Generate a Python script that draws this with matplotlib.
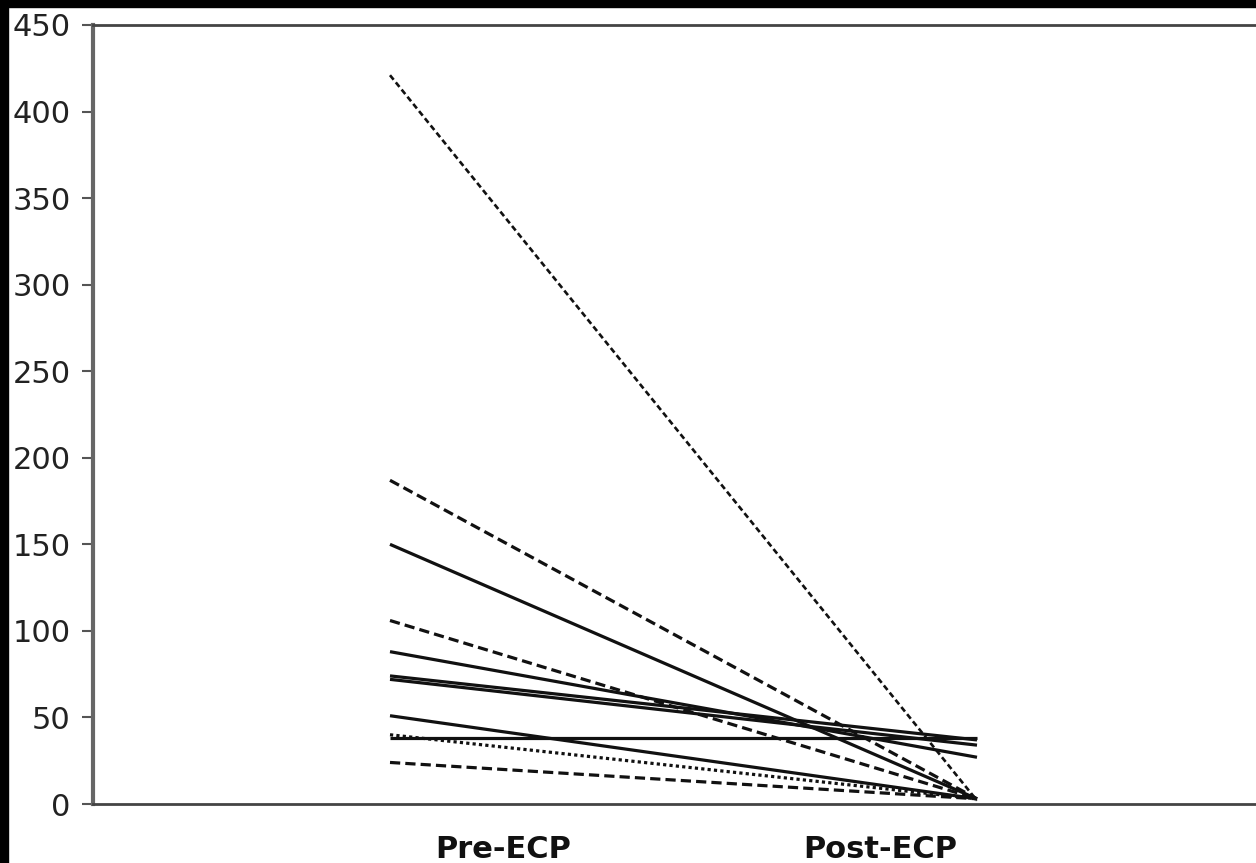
import matplotlib.pyplot as plt
from matplotlib.patches import Rectangle

# values per patient: pre and post ECP
pre_vals = [421, 187, 150, 106, 88, 74, 72, 51, 38, 40, 24]
post_vals = [2, 3, 3, 3, 27, 37, 34, 3, 38, 3, 3]
styles = ['fine', 'dash', 'solid', 'dash', 'solid', 'solid', 'solid',
          'solid', 'solid', 'dot', 'dash']

categories = ['Pre-ECP', 'Post-ECP']
yticks = [0, 50, 100, 150, 200, 250, 300, 350, 400, 450]

fig = plt.figure(figsize=(12.56, 8.63), dpi=100, facecolor='white')
ax = fig.add_axes([93 / 1256, 1 - 804 / 863, 1 - 93 / 1256, (804 - 25) / 863])

dash_map = {
    'fine': dict(linestyle=(0, (2.2, 1.3)), linewidth=1.9),
    'dash': dict(linestyle=(0, (3.2, 1.6)), linewidth=2.3),
    'dot': dict(linestyle=(0, (1.0, 1.0)), linewidth=2.3),
    'solid': dict(linestyle='-', linewidth=2.3),
}

for pre, post, st in zip(pre_vals, post_vals, styles):
    ax.plot([0, 1], [pre, post], color='#111111', solid_capstyle='butt',
            dash_capstyle='butt', **dash_map[st])

# pixel mapping: Pre at x=390, Post at x=977, axis spans 93..1256
px_per = 977 - 390
ax.set_xlim((93 - 390) / px_per, (1256 - 390) / px_per)
ax.set_ylim(0, 450)
ax.set_yticks(yticks)
ax.set_xticks([(503 - 390) / px_per, (880 - 390) / px_per])
ax.set_xticklabels(categories, fontsize=22, fontweight='bold', color='#111111')
ax.tick_params(axis='x', length=0, pad=22)
ax.tick_params(axis='y', length=8, width=1.5, color='#555555', pad=8,
               labelsize=22, labelcolor='#222222')

ax.spines['right'].set_visible(False)
ax.spines['left'].set_linewidth(3)
ax.spines['left'].set_color('#666666')
for s in ['top', 'bottom']:
    ax.spines[s].set_linewidth(2)
    ax.spines[s].set_color('#444444')

# black frame strips on top and left edges
fig.patches.append(Rectangle((0, 0), 8 / 1256, 1, transform=fig.transFigure,
                             color='black', zorder=10))
fig.patches.append(Rectangle((0, 1 - 7 / 863), 1, 7 / 863, transform=fig.transFigure,
                             color='black', zorder=10))

fig.savefig('out.png', dpi=100, facecolor='white')
